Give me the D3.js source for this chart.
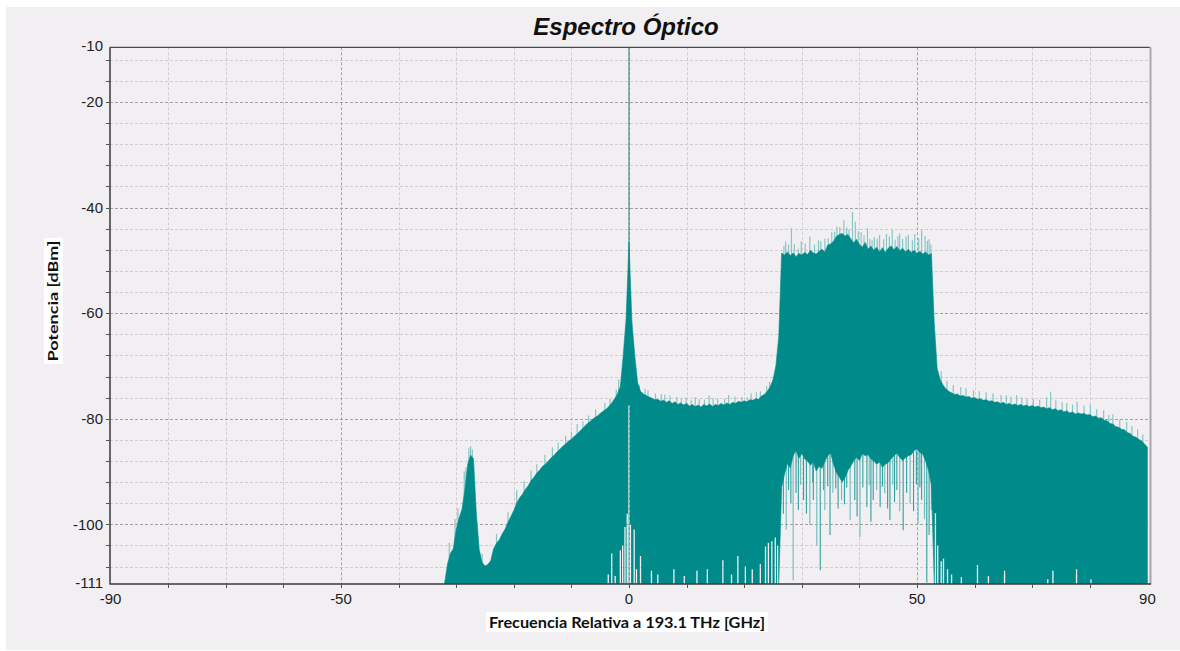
<!DOCTYPE html>
<html><head><meta charset="utf-8">
<script src="https://cdn.jsdelivr.net/npm/d3@7"></script>
<style>html,body{margin:0;padding:0;background:#fff;}svg{display:block;}</style>
</head><body>
<svg id="chart" width="1180" height="651"></svg>
<script>
// ---------- DATA ----------
const chartTitle = "Espectro Óptico";
const xAxisTitle = "Frecuencia Relativa a 193.1 THz [GHz]";
const yAxisTitle = "Potencia [dBm]";
const xTickLabels = [-90, -50, 0, 50, 90];
const yTickLabels = [-10, -20, -40, -60, -80, -100, -111];
const xGridMajor = [-50, 0, 50];
const xGridMinor = [-80, -70, -60, -40, -30, -20, -10, 10, 20, 30, 40, 60, 70, 80];
const yGridMajor = [-20, -40, -60, -80, -100];
const yGridMinor = [-12, -16, -24, -28, -32, -36, -44, -48, -52, -56, -64, -68, -72, -76, -84, -88, -92, -96, -104, -108];

// spectrum upper envelope, bins every 0.5 GHz from -32 GHz (dBm)
const freqStart = -32, freqStep = 0.5;
const upperLevels = [
  -111, -107.5, -105.5, -104.6, -101, -98.8, -97.2, -93.5, -88.6, -86.9,
  -87.6, -98, -104.8, -107.2, -107.9, -107.6, -106.9, -104.6, -103.6, -102.9,
  -101.8, -100.9, -99.6, -98.5, -97.4, -96.0, -95.0, -94.3, -93.4, -92.7,
  -91.7, -91.1, -90.3, -89.7, -89.0, -88.6, -88.0, -87.4, -86.9, -86.3,
  -85.8, -85.2, -84.8, -84.2, -83.9, -83.3, -82.9, -82.3, -81.8, -81.2,
  -80.7, -80.3, -79.8, -79.5, -79.0, -78.6, -78.2, -77.7, -77.0, -76.2,
  -75.3, -73.9, -68, -61, -46.5, -61.5, -68, -73.2, -74.8, -75.3,
  -75.6, -75.9, -76.1, -76.4, -76.3, -76.7, -76.5, -76.9, -76.6, -77.1,
  -76.8, -77.3, -77.0, -77.4, -77.1, -77.6, -77.3, -77.7, -77.4, -77.8,
  -77.3, -77.6, -77.2, -77.7, -77.3, -77.5, -77.1, -77.4, -77.0, -77.3,
  -76.9, -77.1, -76.7, -76.9, -76.6, -76.8, -76.4, -76.5, -76.2, -76.3,
  -75.7, -75.4, -74.8, -74.0, -72.6, -70.0, -64.5, -48.6, -49.0, -48.4,
  -49.1, -48.6, -49.3, -48.7, -49.0, -48.5, -48.9, -48.1, -48.6, -48.8,
  -48.3, -47.9, -48.4, -47.1, -46.9, -46.4, -45.5, -45.1, -44.9, -45.4,
  -45.1, -45.9, -46.7, -46.0, -47.0, -47.5, -46.6, -47.9, -47.3, -48.1,
  -47.5, -48.4, -47.6, -48.5, -47.7, -47.3, -48.0, -47.4, -48.2, -47.7,
  -48.4, -47.9, -48.5, -48.1, -48.7, -48.3, -48.8, -48.4, -49.0, -48.7,
  -62, -70.5, -72.5, -73.6, -74.3, -74.8, -75.1, -75.4, -75.3, -75.7,
  -75.6, -75.9, -75.8, -76.1, -76.0, -76.3, -76.2, -76.5, -76.4, -76.7,
  -76.6, -76.9, -76.8, -77.1, -76.9, -77.3, -77.1, -77.4, -77.2, -77.5,
  -77.3, -77.6, -77.4, -77.7, -77.5, -77.8, -77.6, -77.9, -77.8, -78.1,
  -77.9, -78.3, -78.1, -78.5, -78.3, -78.7, -78.5, -78.9, -78.7, -79.1,
  -78.9, -79.1, -79.0, -79.3, -79.2, -79.6, -79.5, -79.9, -79.8, -80.3,
  -80.4, -80.9, -81.0, -81.5, -81.6, -82.0, -82.1, -82.6, -82.8, -83.3,
  -83.5, -83.9, -84.2, -84.8, -85.4
];
// lower envelope inside the modulated band (bins every 0.5 GHz from 26.5 GHz)
const bandLowStart = 26.5;
const bandLowLevels = [
  -93, -90.5, -88.5, -89.3, -87.0, -86.0, -87.5, -86.6, -87.6, -88.0,
  -88.8, -88.2, -89.9, -89.0, -89.4, -88.1, -87.0, -86.5, -88.6, -90.2,
  -91.0, -92.0, -91.2, -89.8, -89.0, -88.0, -87.3, -87.9, -86.6, -87.0,
  -86.8, -87.6, -88.0, -88.6, -88.2, -89.2, -88.6, -88.3, -87.6, -87.0,
  -86.5, -87.3, -87.9, -87.4, -87.0, -86.8, -86.0, -85.8, -86.4, -86.7,
  -88.0, -89.8, -92.5
];
const floorLevel = -111.3;
// carrier line (exceeds top of scale)
const carrierFreq = 0, carrierLevel = -5;
// light peaks above the envelope
const tipFreqs  = [-31.2, -30.2, -29.7, -28.6, -28.3, -27.8, -27.5, -27.2, -25.5, -23.0, -21.0, -19.5, -18.2, -17.0, -16.0, -14.6, -13.3, -12.3, -11.0, -10.0, -9.0, -8.0, -7.0, -5.8, -4.2, -3.3, -2.2, -1.8,
  1.8, 2.8, 3.3, 4.6, 5.6, 6.2, 7.1, 8.3, 9.1, 9.9, 10.8, 11.5, 12.2, 13.1, 13.9, 14.6, 15.4, 16.6, 17.3, 18.4, 19.6, 20.6, 21.2, 22.1, 22.8, 23.9, 24.4,
  26.9, 27.2, 27.7, 28.2, 28.7, 29.4, 29.9, 30.6, 31.4, 32.2, 32.9, 33.3, 34.0, 34.6, 35.2, 35.7, 36.1, 36.6, 37.3, 37.8, 38.2, 38.8, 39.3, 39.8, 40.3, 40.8, 41.4, 41.8, 42.2, 42.6, 43.1, 43.5, 44.2, 44.7, 45.2, 45.7, 46.2, 46.7, 47.0, 47.5, 48.1, 48.5, 49.2, 49.6, 50.3, 50.8, 51.4, 51.8, 52.1, 52.4,
  54.2, 55.2, 56.3, 57.6, 58.5, 59.8, 60.8, 62.0, 63.2, 64.6, 65.5, 66.3, 67.3, 68.2, 69.1, 70.2, 71.3, 72.5, 73.2, 74.1, 75.2, 76.0, 77.0, 77.8, 79.0, 80.1, 81.2, 82.4, 83.3, 84.0, 85.2, 86.4, 87.3, 88.3, 89.2];
const tipLevels = [-103.5, -99, -97.0, -90, -89.2, -85.5, -85.2, -85.8, -105.5, -101.8, -97.6, -93.5, -91.8, -89.8, -88.6, -86.8, -85.4, -84.5, -83.2, -82.4, -81.0, -80.5, -79.4, -78.2, -77.0, -76.2, -74.5, -72.5,
  -73.6, -74.3, -74.6, -75.2, -75.3, -75.4, -75.6, -75.9, -76.2, -76.0, -76.5, -75.9, -76.3, -76.4, -75.6, -76.1, -76.2, -76.2, -75.5, -75.8, -75.9, -76.0, -75.2, -75.0, -74.8, -73.8, -73.0,
  -47.3, -46.5, -47.0, -43.9, -46.9, -47.8, -46.4, -46.8, -45.5, -47.0, -46.2, -46.4, -45.9, -45.8, -44.6, -44.6, -43.6, -43.7, -42.4, -43.8, -44.1, -40.8, -42.7, -44.5, -44.7, -45.3, -43.9, -45.9, -46.2, -45.6, -45.9, -45.2, -46.0, -45.0, -45.5, -44.2, -46.1, -45.4, -44.9, -45.9, -45.5, -45.2, -46.2, -45.0, -45.8, -44.3, -45.4, -46.3, -46.0, -47.0,
  -71.0, -72.8, -73.6, -74.0, -74.2, -74.6, -74.8, -75.0, -75.2, -75.5, -75.6, -75.8, -75.5, -76.0, -76.2, -76.2, -76.4, -75.9, -74.9, -76.5, -76.9, -77.0, -77.3, -76.8, -77.5, -77.3, -78.2, -78.4, -79.3, -79.2, -80.2, -80.6, -81.4, -82.0, -83.0];
// deep dips inside the band (teal strokes falling into the empty region)
const dropFreqs  = [26.8, 27.3, 27.7, 28.1, 28.5, 29.0, 29.4, 29.8, 30.3, 30.8, 31.4, 31.9, 32.0, 32.6, 33.2, 33.8, 34.0, 34.5, 34.9, 35.4, 35.9, 36.3, 36.9, 37.4, 37.8, 38.4, 39.2, 39.6, 40.1, 40.6, 41.3, 41.7, 42.0, 42.4, 43.0, 43.6, 44.0, 44.4, 44.9, 45.3, 45.8, 46.1, 46.5, 47.0, 47.6, 48.2, 48.8, 49.4, 49.9, 50.2, 50.5, 50.8, 51.3, 51.7, 52.1, 52.5];
const dropLevels = [-98, -101, -93.5, -96, -110.6, -94, -97.3, -92.5, -95.4, -98, -100.1, -92, -95.4, -104, -108.7, -93.5, -97.3, -92.8, -102.0, -94, -93.2, -97, -95.4, -96.2, -93, -99.2, -95.4, -98.5, -102.4, -93, -96.7, -92.6, -99.5, -95.4, -93.5, -96.7, -92.9, -94.1, -97, -99.2, -92.5, -95.8, -93.5, -97.5, -101.1, -94, -96.0, -97.5, -92.4, -99.8, -93, -95.4, -99, -111, -102, -97.3];
// empty notches rising from the floor
const gapFreqs  = [-3.6, -3.0, -2.4, -1.5, -1.1, -0.7, -0.3, 0.0, 0.25, 0.9, 1.3, 2.0, 3.9, 5.0, 7.8, 9.6, 11.8, 13.6, 16.3, 17.8, 18.9, 20.2, 21.4, 22.8, 23.7, 24.2, 24.8, 25.4, 25.8,
  53.2, 53.6, 54.2, 54.6, 55.3, 56.0, 57.7, 60.5, 62.4, 65.2, 72.7, 73.6, 77.7, 80.2];
const gapLevels = [-109.5, -105.5, -109.8, -104.9, -104, -100.5, -98, -77.5, -100, -101, -108.5, -106, -108.8, -109.5, -108.5, -109.8, -108.8, -108.5, -106.8, -109.5, -106.0, -108.0, -108.5, -107.5, -104.2, -103.5, -103.2, -102.5, -104,
  -97.9, -104, -107, -106.5, -108.5, -109.5, -110, -107.7, -109.8, -108.8, -110.4, -108.8, -108.5, -110.4];

// ---------- LAYOUT ----------
const W = 1180, H = 651;
const X0 = 110, X1 = 1150, Y0 = 47.3, Y1 = 584;
const svg = d3.select("#chart");
const x = d3.scaleLinear().domain([-90.1, 90.45]).range([X0, X1]);
const y = d3.scaleLinear().domain([floorLevel, -9.65]).range([Y1, Y0]);
const fill = "#008b8a";

svg.append("rect").attr("x", 6).attr("y", 7).attr("width", W - 6).attr("height", H - 8).attr("fill", "#f1eff2");

const defs = svg.append("defs");
defs.append("clipPath").attr("id", "plotClip").append("rect")
  .attr("x", X0).attr("y", Y0).attr("width", X1 - X0).attr("height", Y1 - Y0);
const mask = defs.append("mask").attr("id", "gapMask").attr("maskUnits", "userSpaceOnUse")
  .attr("x", X0).attr("y", Y0 - 5).attr("width", X1 - X0).attr("height", Y1 - Y0 + 10);
mask.append("rect").attr("x", X0).attr("y", Y0 - 5).attr("width", X1 - X0).attr("height", Y1 - Y0 + 10).attr("fill", "#fff");
mask.selectAll("line.gap").data(gapFreqs).join("line")
  .attr("x1", d => x(d)).attr("x2", d => x(d))
  .attr("y1", y(floorLevel) + 2).attr("y2", (d, i) => y(gapLevels[i]))
  .attr("stroke", "#000").attr("stroke-width", 1.3);

// grid
const grid = svg.append("g");
const vline = (arr, col) => grid.selectAll(null).data(arr).join("line")
  .attr("x1", d => Math.round(x(d)) + 0.5).attr("x2", d => Math.round(x(d)) + 0.5)
  .attr("y1", Y0).attr("y2", Y1).attr("stroke", col).attr("stroke-dasharray", "3,2");
const hline = (arr, col) => grid.selectAll(null).data(arr).join("line")
  .attr("y1", d => Math.round(y(d)) + 0.5).attr("y2", d => Math.round(y(d)) + 0.5)
  .attr("x1", X0).attr("x2", X1).attr("stroke", col).attr("stroke-dasharray", "3,2");
vline(xGridMinor, "#cfcdd0"); hline(yGridMinor, "#cfcdd0");
vline(xGridMajor, "#a3a1a4"); hline(yGridMajor, "#a3a1a4");

// spectrum
const spectrum = upperLevels.map((v, i) => {
  const f = freqStart + i * freqStep;
  const j = Math.round((f - bandLowStart) / freqStep);
  const lo = (j >= 0 && j < bandLowLevels.length) ? bandLowLevels[j] : floorLevel;
  return { f, hi: v, lo };
});
const envAt = f => {
  const i = Math.max(0, Math.min(upperLevels.length - 1, Math.round((f - freqStart) / freqStep)));
  return upperLevels[i];
};
const plot = svg.append("g").attr("clip-path", "url(#plotClip)");
plot.selectAll("line.tip").data(tipFreqs).join("line")
  .attr("x1", d => x(d)).attr("x2", d => x(d))
  .attr("y1", (d, i) => y(tipLevels[i])).attr("y2", d => y(envAt(d) - 2.5))
  .attr("stroke", "#86c7c6").attr("stroke-width", 1.2);
plot.selectAll("line.drop").data(dropFreqs).join("line")
  .attr("x1", d => x(d)).attr("x2", d => x(d))
  .attr("y1", y(-86)).attr("y2", (d, i) => y(dropLevels[i]))
  .attr("stroke", (d, i) => i % 3 === 1 ? "#6cbcbb" : "#2fa09f").attr("stroke-width", 1.1);
const area = d3.area().x(d => x(d.f)).y0(d => y(d.lo)).y1(d => y(d.hi));
plot.append("path").datum(spectrum).attr("d", area).attr("fill", fill)
  .attr("stroke", fill).attr("stroke-width", 0.6).attr("mask", "url(#gapMask)");
plot.append("line")
  .attr("x1", x(carrierFreq)).attr("x2", x(carrierFreq))
  .attr("y1", y(carrierLevel)).attr("y2", y(-55))
  .attr("stroke", "#2b7f7e").attr("stroke-width", 1);

// frame / axes
svg.append("line").attr("x1", X0).attr("x2", X1).attr("y1", Y0).attr("y2", Y0).attr("stroke", "#4a4a4a").attr("stroke-width", 1.2);
svg.append("line").attr("x1", X1 + 0.5).attr("x2", X1 + 0.5).attr("y1", Y0).attr("y2", Y1).attr("stroke", "#a9a7aa").attr("stroke-width", 2);
svg.append("line").attr("x1", X0).attr("x2", X0).attr("y1", Y0).attr("y2", Y1 + 0.5).attr("stroke", "#3a3a3a").attr("stroke-width", 1.5);
svg.append("line").attr("x1", X0).attr("x2", X1 + 1).attr("y1", Y1).attr("y2", Y1).attr("stroke", "#3a3a3a").attr("stroke-width", 1.5);

// small tick marks
svg.selectAll("line.yt").data(yGridMinor.concat(yGridMajor)).join("line")
  .attr("x1", X0 - 4).attr("x2", X0).attr("y1", d => Math.round(y(d)) + 0.5).attr("y2", d => Math.round(y(d)) + 0.5)
  .attr("stroke", "#555");
svg.selectAll("line.xt").data(xGridMinor.concat(xGridMajor)).join("line")
  .attr("x1", d => Math.round(x(d)) + 0.5).attr("x2", d => Math.round(x(d)) + 0.5).attr("y1", Y1).attr("y2", Y1 + 4)
  .attr("stroke", "#555");

// tick labels
svg.selectAll("text.yl").data(yTickLabels).join("text")
  .attr("x", X0 - 7).attr("y", d => Math.max(y(d), Y0 - 3)).attr("dy", d => d === -10 ? "0.1em" : "0.35em")
  .attr("text-anchor", "end").attr("font-family", "Liberation Sans, Arial, sans-serif")
  .attr("font-size", 15).attr("fill", "#1e1e1e").text(d => d);
svg.selectAll("text.xl").data(xTickLabels).join("text")
  .attr("x", d => x(d)).attr("y", 604)
  .attr("text-anchor", "middle").attr("font-family", "Liberation Sans, Arial, sans-serif")
  .attr("font-size", 15).attr("fill", "#1e1e1e").text(d => d);

// title
svg.append("text").attr("x", 626).attr("y", 35).attr("text-anchor", "middle")
  .attr("font-family", "Liberation Sans, Arial, sans-serif").attr("font-weight", "bold")
  .attr("font-style", "italic").attr("font-size", 24).attr("fill", "#111").text(chartTitle);

// axis titles with white boxes
svg.append("rect").attr("x", 486).attr("y", 612).attr("width", 282).attr("height", 20).attr("fill", "#fff");
svg.append("text").attr("x", 489).attr("y", 627.5)
  .attr("font-family", "Lato, 'Open Sans', sans-serif").attr("font-weight", "bold").attr("font-size", 15)
  .attr("textLength", 276).attr("lengthAdjust", "spacingAndGlyphs").attr("fill", "#111").text(xAxisTitle);
svg.append("rect").attr("x", 44).attr("y", 238).attr("width", 19).attr("height", 126).attr("fill", "#fff");
svg.append("text").attr("transform", "translate(58,301) rotate(-90)").attr("text-anchor", "middle")
  .attr("font-family", "Lato, 'Open Sans', sans-serif").attr("font-weight", "bold").attr("font-size", 14)
  .attr("textLength", 121).attr("lengthAdjust", "spacingAndGlyphs").attr("fill", "#111").text(yAxisTitle);
</script>
</body></html>
